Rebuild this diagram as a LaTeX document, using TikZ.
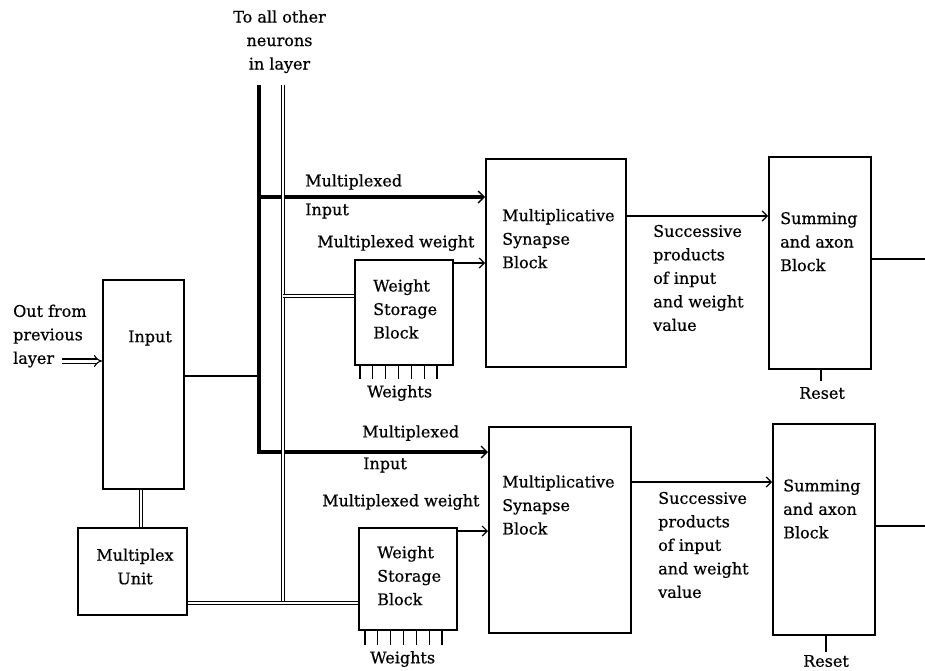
\documentclass[tikz,border=0pt]{standalone}
\usepackage{fontspec}
\setmainfont{DejaVu Serif}[FakeBold=0.6]
\usetikzlibrary{arrows.meta,calc}
\begin{document}
\begin{tikzpicture}[x=1pt,y=-1pt,
  box/.style={draw, line width=1.8pt, inner sep=0pt, anchor=north west},
  txt/.style={font=\fontsize{16}{23.5}\selectfont, inner sep=0pt, anchor=west, align=left},
  ctxt/.style={font=\fontsize{16}{23.5}\selectfont, inner sep=0pt, align=center},
  thinline/.style={line width=1.2pt},
  arr/.style={line width=1.2pt, -{Straight Barb[length=5pt,width=10pt]}},
  thk/.style={line width=3.2pt},
  thkarr/.style={line width=3.2pt, -{Straight Barb[length=6pt,width=12pt,line width=1.4pt]}},
  dbl/.style={double, line width=1.4pt, double distance=2pt},
]
\useasboundingbox (0,0) rectangle (925,670);

% boxes
\node[box, minimum width=81pt, minimum height=209pt] (input) at (102,279) {};
\node[box, minimum width=109pt, minimum height=87pt] (mux) at (77,527) {};
\node[box, minimum width=98pt, minimum height=105pt] (ws1) at (354,259) {};
\node[box, minimum width=140pt, minimum height=208pt] (syn1) at (485,158) {};
\node[box, minimum width=102pt, minimum height=212pt] (sum1) at (768,156) {};
\node[box, minimum width=98pt, minimum height=102pt] (ws2) at (358,527) {};
\node[box, minimum width=142pt, minimum height=206pt] (syn2) at (488,426) {};
\node[box, minimum width=102pt, minimum height=211pt] (sum2) at (772,423) {};

% coordinates
\coordinate (tA) at (259,85);
\coordinate (tB) at (283,85);
\coordinate (cA) at (259,452);
\coordinate (jA) at (259,197);
\coordinate (jIn) at (259,376);
\coordinate (cB) at (283,603);
\coordinate (jB) at (283,296);
\coordinate (ofs) at (62,361);
\coordinate (o1) at (925,259);
\coordinate (o2) at (925,526);
\coordinate (r1) at (821,381);
\coordinate (r2) at (826,652);
\coordinate (w1) at ([yshift=-4pt]ws1.north east);
\coordinate (w2) at ([yshift=-4pt]ws2.north east);
\coordinate (p1) at (625,216);
\coordinate (p2) at (630,482);
\coordinate (mx) at (141,500);

% thick single bus
\draw[thk] (tA) -- (cA);
\draw[thkarr] ([xshift=-1.6pt]cA) -- (syn2.west |- cA);
\draw[thkarr] (jA) -- (syn1.west |- jA);
\draw[thinline] (input.east |- jIn) -- (jIn);

% double bus
\draw[dbl] (tB) -- (cB);
\draw[dbl] (mux.east |- cB) -- (ws2.west |- cB);
\draw[dbl] (jB) -- (ws1.west |- jB);
\draw[dbl] (input.south -| mx) -- (mux.north -| mx);

% input arrow
\draw[double, line width=1.1pt, double distance=3pt, -{Implies}] (ofs) -- (input.west |- ofs);

% weight arrows
\draw[arr] (w1) -- (syn1.west |- w1);
\draw[arr] (w2) -- (syn2.west |- w2);

% synapse to sum
\draw[arr] (syn1.east |- p1) -- (sum1.west |- p1);
\draw[arr] (syn2.east |- p2) -- (sum2.west |- p2);

% outputs
\draw[thinline] (sum1.east |- o1) -- (o1);
\draw[thinline] (sum2.east |- o2) -- (o2);

% resets
\draw[thinline] (sum1.south -| r1) -- (r1);
\draw[thinline] (sum2.south -| r2) -- (r2);

% weight ticks
\foreach \i in {0,...,6} {
  \draw[thinline] ($(ws1.south west)+({6+12.83*\i},0)$) -- ++(0,13);
  \draw[thinline] ($(ws2.south west)+({7+12.83*\i},0)$) -- ++(0,14);
}

% texts
\node[ctxt] (ttop) at (279.5,41.7) {To all other\\neurons\\in layer};
\node[txt] (tout) at (13,336) {Out from\\previous\\layer};
\node[txt] (tinp) at (128,338) {Input};
\node[ctxt] (tmux) at (135,566.5) {Multiplex\\Unit};

\node[txt] (tmi1) at (305,182) {Multiplexed};
\node[txt] (tin1) at (305,211) {Input};
\node[txt] (tmw1) at (317,243) {Multiplexed weight};
\node[txt] (tws1) at (373,309) {Weight\\Storage\\Block};
\node[txt] (tw1) at (367,393) {Weights};
\node[txt] (tsy1) at (502,238.7) {Multiplicative\\Synapse\\Block};
\node[txt] (tsp1) at (653,278) {Successive\\products\\of input\\and weight\\value};
\node[txt] (tsm1) at (780,241.7) {Summing\\and axon\\Block};
\node[ctxt] (trs1) at (822,393) {Reset};

\node[txt] (tmi2) at (362,433) {Multiplexed};
\node[txt] (tin2) at (363,465) {Input};
\node[txt] (tmw2) at (322,502) {Multiplexed weight};
\node[txt] (tws2) at (377,575.7) {Weight\\Storage\\Block};
\node[txt] (tw2) at (370,659) {Weights};
\node[txt] (tsy2) at (502,505) {Multiplicative\\Synapse\\Block};
\node[txt] (tsp2) at (658,545) {Successive\\products\\of input\\and weight\\value};
\node[txt] (tsm2) at (783,509) {Summing\\and axon\\Block};
\node[ctxt] (trs2) at (826,661) {Reset};
\end{tikzpicture}
\end{document}
